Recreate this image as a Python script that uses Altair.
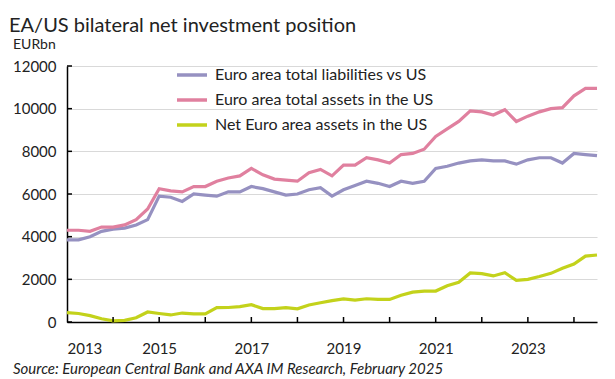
import altair as alt
import pandas as pd

# Quarterly observations, 2013Q1 .. 2024Q3 (decimal year positions)
quarters = [2013 + q / 4 for q in range(47)]

liabilities = [3850, 3850, 4000, 4250, 4350, 4400, 4550, 4800,
               5900, 5850, 5650, 6000, 5950, 5900, 6100, 6100,
               6350, 6250, 6100, 5950, 6000, 6200, 6300, 5900,
               6200, 6400, 6600, 6500, 6350, 6600, 6500, 6600,
               7200, 7300, 7450, 7550, 7600, 7550, 7550, 7400,
               7600, 7700, 7700, 7450, 7900, 7850, 7800]

assets = [4300, 4300, 4250, 4450, 4450, 4550, 4800, 5300,
          6250, 6150, 6100, 6350, 6350, 6600, 6750, 6850,
          7200, 6900, 6700, 6650, 6600, 7000, 7150, 6850,
          7350, 7350, 7700, 7600, 7450, 7850, 7900, 8100,
          8700, 9050, 9400, 9900, 9850, 9700, 9950, 9400,
          9650, 9850, 10000, 10050, 10600, 10950, 10950]

net = [440, 400, 300, 150, 50, 80, 200, 470,
       400, 330, 420, 380, 380, 670, 680, 720,
       810, 630, 630, 670, 620, 800, 900, 1000,
       1080, 1030, 1090, 1060, 1060, 1250, 1400, 1450,
       1450, 1700, 1860, 2300, 2270, 2160, 2310, 1950,
       2000, 2130, 2280, 2520, 2720, 3090, 3140]

series_names = ["Euro area total liabilities vs US",
                "Euro area total assets in the US",
                "Net Euro area assets in the US"]
series_colors = ["#9691C1", "#E0809F", "#C3D21B"]

x_label_years = [2013, 2015, 2017, 2019, 2021, 2023]
x_tick_years = [2014, 2015, 2016, 2017, 2018, 2019, 2020, 2021, 2022, 2023, 2024]
y_ticks = [0, 2000, 4000, 6000, 8000, 10000, 12000]

FONT = "Lato"
W, H = 530, 256

rows = []
for name, vals in zip(series_names, [liabilities, assets, net]):
    for q, v in zip(quarters, vals):
        rows.append({"quarter": q, "value": v, "series": name})
df = pd.DataFrame(rows)

xscale = alt.Scale(domain=[2013, 2024.5], nice=False, zero=False)
yscale = alt.Scale(domain=[0, 12000], nice=False)

lines = alt.Chart(df).mark_line(strokeWidth=3.2).encode(
    x=alt.X("quarter:Q", scale=xscale,
            axis=alt.Axis(values=x_label_years, format="d", title=None,
                          tickSize=0, domainColor="black", domainWidth=1.5,
                          labelFontSize=15, labelPadding=19, labelColor="#222",
                          labelFont=FONT, grid=False)),
    y=alt.Y("value:Q", scale=yscale,
            axis=alt.Axis(values=y_ticks, format="d", title=None,
                          tickSize=0, domainColor="black", domainWidth=1.5,
                          labelFontSize=15, labelPadding=11, labelColor="#222",
                          labelFont=FONT, grid=True, gridColor="#d9d9d9")),
    color=alt.Color("series:N",
                    scale=alt.Scale(domain=series_names, range=series_colors),
                    sort=series_names,
                    legend=alt.Legend(title=None, orient="none",
                                      legendX=108, legendY=-8,
                                      symbolType="stroke", symbolSize=900,
                                      symbolStrokeWidth=3.5,
                                      labelFontSize=16, labelFont=FONT,
                                      labelColor="#222", rowPadding=0,
                                      labelOffset=6, labelLimit=400)),
)

xt = alt.Chart(pd.DataFrame({"year": x_tick_years})).mark_rule(
    color="black", strokeWidth=1.5).encode(
    x=alt.X("year:Q", scale=xscale),
    y=alt.value(H), y2=alt.value(H - 5))

yt = alt.Chart(pd.DataFrame({"v": y_ticks})).mark_rule(
    color="black", strokeWidth=1.5).encode(
    y=alt.Y("v:Q", scale=yscale),
    x=alt.value(0), x2=alt.value(5))

unit = alt.Chart(pd.DataFrame({"t": ["EURbn"]})).mark_text(
    align="left", baseline="alphabetic", fontSize=14, font=FONT, color="#222").encode(
    text="t:N", x=alt.value(-54), y=alt.value(-17))

source = alt.Chart(pd.DataFrame({"t": ["Source: European Central Bank and AXA IM Research, February 2025"]})).mark_text(
    align="left", baseline="alphabetic", fontSize=15, font=FONT, fontStyle="italic",
    color="#222").encode(
    text="t:N", x=alt.value(-54), y=alt.value(308))

chart = alt.layer(lines, xt, yt, unit, source).properties(
    width=W, height=H,
    title=alt.TitleParams("EA/US bilateral net investment position",
                          anchor="start", frame="group", dx=-58, dy=20, offset=6,
                          baseline="alphabetic",
                          fontSize=20, font=FONT, fontWeight="normal",
                          color="#222"),
    padding={"left": 59, "top": 58, "right": 10, "bottom": 57},
    autosize=alt.AutoSizeParams(type="none"),
).configure_view(stroke=None)

chart.save("out.html", embed_options={"renderer": "svg", "actions": False})
